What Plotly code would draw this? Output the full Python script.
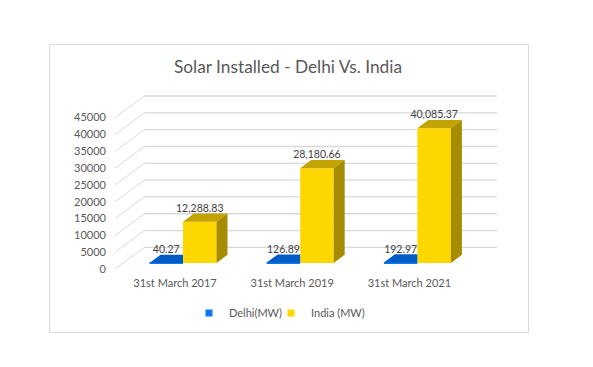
import plotly.graph_objects as go

categories = ["31st March 2017", "31st March 2019", "31st March 2021"]
delhi_mw = [40.27, 126.89, 192.97]
india_mw = [12288.83, 28180.66, 40085.37]
delhi_labels = ["40.27", "126.89", "192.97"]
india_labels = ["12,288.83", "28,180.66", "40,085.37"]
y_ticks = [0, 5000, 10000, 15000, 20000, 25000, 30000, 35000, 40000, 45000]

PAGE_MARGIN = 8  # the page's default body margin
W, H = 593 - PAGE_MARGIN, 367 - PAGE_MARGIN
FONT = "Lato"
TXT = "#595959"
GRID = "#D9D9D9"


def px(p):
    return p - PAGE_MARGIN


# axis calibration (figure pixels of the floor's front edge)
PX_X0, PX_PER_CAT = px(175.0), 117.2
PX_Y0, PX_PER_VAL = px(269.0), 0.003364
DEPTH_X = 29 / PX_PER_CAT       # full depth of the box in category units
DEPTH_Y = 21.6 / PX_PER_VAL     # full depth of the box in value units
T_FRONT, T_BACK = 0.276, 0.655  # bar position within the box depth
BAR_W = 33.5 / PX_PER_CAT
X_LEFT, X_RIGHT = -0.51, 2.5


def project(x, v, t):
    return x + t * DEPTH_X, v + t * DEPTH_Y


fig = go.Figure()
pos = list(range(len(categories)))

base_front = project(0, 0, T_FRONT)[1]
off_front = project(0, 0, T_FRONT)[0]

# front faces
fig.add_trace(go.Bar(x=[i - BAR_W / 2 + off_front for i in pos], y=delhi_mw, base=base_front,
                     width=BAR_W, marker=dict(color="#0A78F0", line_width=0), showlegend=False,
                     hoverinfo="skip"))
fig.add_trace(go.Bar(x=[i + BAR_W / 2 + off_front for i in pos], y=india_mw, base=base_front,
                     width=BAR_W, marker=dict(color="#FFD700", line_width=0), showlegend=False,
                     hoverinfo="skip"))


def poly(points, color):
    xs, ys = zip(*points)
    fig.add_trace(go.Scatter(x=list(xs) + [xs[0]], y=list(ys) + [ys[0]], mode="lines", fill="toself",
                             fillcolor=color, line=dict(width=0), showlegend=False, hoverinfo="skip"))


dt = T_BACK - T_FRONT
for i, d, v in zip(pos, delhi_mw, india_mw):
    # Delhi top, cut at the India bar's front edge
    poly([project(i - BAR_W, d, T_FRONT), project(i, d, T_FRONT),
          project(i - dt * DEPTH_X, d, T_BACK), project(i - BAR_W, d, T_BACK)], "#005BC4")
    # India top
    poly([project(i, v, T_FRONT), project(i + BAR_W, v, T_FRONT),
          project(i + BAR_W, v, T_BACK), project(i, v, T_BACK)], "#C2A300")
    # India side
    poly([project(i + BAR_W, 0, T_FRONT), project(i + BAR_W, v, T_FRONT),
          project(i + BAR_W, v, T_BACK), project(i + BAR_W, 0, T_BACK)], "#A68C00")

# data labels
LABEL_GAP = 12.5 / PX_PER_VAL
dx, dy = zip(*[project(i - BAR_W / 2, d + LABEL_GAP, T_FRONT) for i, d in zip(pos, delhi_mw)])
fig.add_trace(go.Scatter(x=dx, y=dy, mode="text", text=delhi_labels, textposition="middle center",
                         textfont=dict(family=FONT, size=10.5, color="#404040"), showlegend=False, hoverinfo="skip"))
ix, iy = zip(*[project(i + BAR_W / 2, v + LABEL_GAP, T_FRONT) for i, v in zip(pos, india_mw)])
fig.add_trace(go.Scatter(x=ix, y=iy, mode="text", text=india_labels, textposition="middle center",
                         textfont=dict(family=FONT, size=10.5, color="#404040"), showlegend=False, hoverinfo="skip"))

# legend entries, one legend each so their spacing can follow the reference
for name, color, lg in [("Delhi(MW)", "#0A78F0", "legend"), ("India (MW)", "#FFD700", "legend2")]:
    fig.add_trace(go.Scatter(x=[None], y=[None], mode="markers", name=name, legend=lg,
                             marker=dict(symbol="square", size=7, color=color)))

# walls: gridlines on the back and left side, from the tick values
shapes = []
for v in y_ticks:
    x0, y0 = project(X_LEFT, v, 0)
    x1, y1 = project(X_LEFT, v, 1)
    x2, y2 = project(X_RIGHT, v, 1)
    shapes.append(dict(type="line", x0=x0, y0=y0, x1=x1, y1=y1, xref="x", yref="y", layer="below",
                       line=dict(color=GRID, width=1)))
    shapes.append(dict(type="line", x0=x1, y0=y1, x1=x2, y1=y2, xref="x", yref="y", layer="below",
                       line=dict(color=GRID, width=1.3)))
# chart frame
shapes.append(dict(type="rect", xref="paper", yref="paper", x0=px(49.5) / W, x1=px(528.5) / W,
                   y0=1 - px(332.5) / H, y1=1 - px(44.5) / H, layer="below",
                   line=dict(color=GRID, width=1), fillcolor="rgba(0,0,0,0)"))

legend_style = dict(xanchor="left", yanchor="middle", y=1 - px(313) / H,
                    font=dict(family=FONT, size=11, color=TXT), bgcolor="rgba(0,0,0,0)")

fig.update_layout(
    width=W, height=H, autosize=False,
    margin=dict(l=0, r=0, t=0, b=0),
    paper_bgcolor="white", plot_bgcolor="white",
    barmode="overlay", shapes=shapes,
    font=dict(family=FONT, color=TXT, size=11),
    title=dict(text="Solar Installed - Delhi Vs. India", x=px(288) / W, y=1 - px(67) / H, xref="paper", yref="paper",
               xanchor="center", yanchor="middle", font=dict(family=FONT, size=17.3, color=TXT)),
    xaxis=dict(range=[-PX_X0 / PX_PER_CAT, (W - PX_X0) / PX_PER_CAT], tickmode="array", tickvals=pos,
               ticktext=categories, showgrid=False, zeroline=False, showline=False, ticks="",
               anchor="free", position=1 - px(275) / H, tickfont=dict(family=FONT, size=11, color=TXT)),
    yaxis=dict(range=[(PX_Y0 - H) / PX_PER_VAL, PX_Y0 / PX_PER_VAL], tickmode="array", tickvals=y_ticks,
               ticktext=[str(t) for t in y_ticks],
               showgrid=False, zeroline=False, showline=False, ticks="",
               anchor="free", position=px(106) / W, tickfont=dict(family=FONT, size=11, color=TXT)),
    legend=dict(x=px(189) / W, **legend_style),
    legend2=dict(x=px(271) / W, **legend_style),
)
fig.write_html("out.html", config=dict(displayModeBar=False))
